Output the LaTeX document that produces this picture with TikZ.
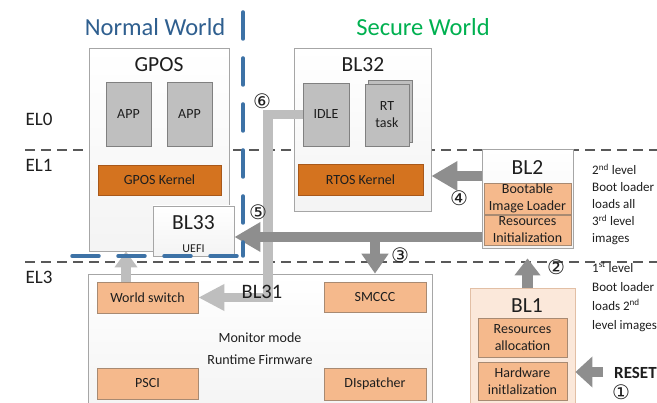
\documentclass[tikz,border=0pt]{standalone}
\usepackage{fontspec}
\setmainfont{Carlito}
\newfontfamily\circfont{DejaVu Sans}
\usetikzlibrary{arrows.meta}
\definecolor{dorange}{HTML}{D4731F}
\definecolor{dorangeline}{HTML}{A8581A}
\definecolor{lorange}{HTML}{F5B98C}
\definecolor{lorangeline}{HTML}{A88A72}
\definecolor{pale}{HTML}{FBE8DA}
\definecolor{paleline}{HTML}{E2BFA5}
\definecolor{nwblue}{HTML}{2F5F8F}
\definecolor{swgreen}{HTML}{00B050}
\definecolor{dashblue}{HTML}{3D72A6}
\definecolor{arrgray}{HTML}{8E8E8E}
\definecolor{hatchgray}{HTML}{BEBEBE}
\definecolor{boxline}{HTML}{A6A6A6}
\definecolor{appfill}{HTML}{BFBFBF}
\definecolor{appline}{HTML}{808080}
\definecolor{txt}{HTML}{1E1E1E}
\begin{document}
\begin{tikzpicture}[x=1pt,y=-1pt,
  every node/.style={text=txt, inner sep=0pt},
  outer/.style={draw=boxline, line width=0.8pt, top color=white, bottom color=gray!9},
  appbox/.style={draw=appline, line width=0.6pt, fill=appfill, font=\fontsize{14}{17}\selectfont, align=center},
  kernel/.style={draw=dorangeline, line width=0.6pt, fill=dorange, font=\fontsize{14}{17}\selectfont},
  lbox/.style={draw=lorangeline, line width=0.6pt, fill=lorange, font=\fontsize{14}{17}\selectfont, align=center},
  title/.style={font=\fontsize{21.5}{24}\selectfont},
  eltext/.style={font=\fontsize{19}{22}\selectfont},
  sidetext/.style={font=\fontsize{13}{17}\selectfont, align=left, anchor=north west},
  circnum/.style={font=\circfont\fontsize{20}{22}\selectfont},
  eldash/.style={draw=gray!70!black, line width=1.3pt, dash pattern=on 10pt off 6pt},
  bluedash/.style={draw=dashblue, line width=3.5pt, dash pattern=on 27pt off 19pt, line cap=round},
  bigarrow/.style={draw=arrgray, line width=10.5pt, -{Triangle[width=28pt,length=26pt]}},
  hatcharrow/.style={draw=hatchgray, line width=9.5pt, line join=miter, -{Triangle[width=25pt,length=26pt]}}
]
\useasboundingbox (0,0) rectangle (657,403);

% exception level lines
\coordinate (el1a) at (25,150);
\coordinate (el1b) at (657,150);
\coordinate (el3a) at (25,262);
\coordinate (el3b) at (657,262);
\draw[eldash] (el1a) -- (el1b);
\draw[eldash] (el3a) -- (el3b);

\node[eltext] (el0t) at (39,119) {EL0};
\node[eltext] (el1t) at (39,165) {EL1};
\node[eltext] (el3t) at (39,277) {EL3};

% world titles
\node[font=\fontsize{24.5}{28}\selectfont, text=nwblue] (nw) at (155,27) {Normal World};
\node[font=\fontsize{24.5}{28}\selectfont, text=swgreen] (sw) at (423,27) {Secure World};

% GPOS
\node[outer, minimum width=140, minimum height=203] (gpos) at (159,149.5) {};
\node[title] (gpost) at (159,65) {GPOS};
\node[appbox, minimum width=45, minimum height=64] (app1) at (128.5,114) {APP};
\node[appbox, minimum width=45, minimum height=64] (app2) at (189.5,114) {APP};
\node[kernel, minimum width=123, minimum height=30] (gk) at (159.5,180) {GPOS Kernel};

% BL33
\node[outer, minimum width=81, minimum height=50] (bl33) at (193.5,231) {};
\node[title] (bl33t) at (193.5,223) {BL33};
\node[font=\fontsize{12}{14}\selectfont] (uefi) at (193.5,249) {UEFI};

% BL32
\node[outer, minimum width=137, minimum height=163] (bl32) at (362.5,129.5) {};
\node[title] (bl32t) at (363,65) {BL32};
\node[appbox, minimum width=46, minimum height=63] (idle) at (326,114.5) {IDLE};
\node[appbox, minimum width=44, minimum height=62] (rtback) at (390,111.5) {};
\node[appbox, minimum width=44, minimum height=62] (rt) at (387,115) {RT\\task};
\node[kernel, minimum width=125, minimum height=31] (rk) at (360.5,179.5) {RTOS Kernel};

% BL2
\node[outer, minimum width=91, minimum height=99] (bl2) at (527.5,198.5) {};
\node[title] (bl2t) at (527.5,168) {BL2};
\node[lbox, minimum width=87, minimum height=31] (bil) at (527.5,198.5) {Bootable\\Image Loader};
\node[lbox, minimum width=87, minimum height=30] (rin) at (527.5,230) {Resources\\Initialization};

% BL1
\node[draw=paleline, line width=0.8pt, fill=pale, minimum width=105, minimum height=125] (bl1) at (522.5,350.5) {};
\node[title] (bl1t) at (527,306) {BL1};
\node[lbox, minimum width=89, minimum height=39] (ral) at (522.5,337.5) {Resources\\allocation};
\node[lbox, minimum width=89, minimum height=38] (hwi) at (522.5,381) {Hardware\\initlalization};

% BL31
\node[outer, minimum width=344, minimum height=140] (bl31) at (260,344) {};
\node[lbox, minimum width=101, minimum height=31] (ws) at (147.5,297.5) {World switch};
\node[lbox, minimum width=102, minimum height=30] (smccc) at (375,297) {SMCCC};
\node[lbox, minimum width=101, minimum height=31] (psci) at (147.5,383.5) {PSCI};
\node[lbox, minimum width=102, minimum height=32] (disp) at (375,384) {DIspatcher};
\node[font=\fontsize{14}{17}\selectfont] (mm) at (260,338) {Monitor mode};
\node[font=\fontsize{14}{17}\selectfont] (rf) at (260,360) {Runtime Firmware};

% side texts
\node[sidetext] (t2) at (592,164) {2\textsuperscript{nd} level\\Boot loader\\loads all\\3\textsuperscript{rd} level\\images};
\node[sidetext, font=\fontsize{13}{19}\selectfont] (t1) at (592,262) {1\textsuperscript{st} level\\Boot loader\\loads 2\textsuperscript{nd}\\level images};
\node[font=\bfseries\fontsize{17}{20}\selectfont, anchor=west] (reset) at (614,373) {RESET};

% hatched world-switch paths
\coordinate (c6) at (268,0);
\coordinate (c7) at (126,0);
\draw[hatcharrow] (idle.west) -- (idle.west -| c6) -- (c6 |- ws.east) -- (ws.east);
\draw[hatcharrow, -{Triangle[width=22pt,length=16pt]}] (c7 |- ws.north) -- (c7 |- gpos.south);
\node[title, font=\fontsize{20.5}{24}\selectfont] (bl31t) at (262,292) {BL31};

% boot flow arrows
\coordinate (h3) at (0,237);
\coordinate (h4) at (0,176);
\coordinate (rs) at (603,372);
\draw[bigarrow, -{Triangle[width=30pt,length=17pt]}] (rs) -- (bl1.east |- rs);
\draw[bigarrow, -{Triangle[width=25pt,length=17pt]}] (bl2.south |- bl1.north) -- ([yshift=-10pt]bl2.south);
\draw[bigarrow] (bl2.west |- h3) -- (bl33.east |- h3);
\draw[bigarrow, -{Triangle[width=26pt,length=20pt]}] (smccc.north |- h3) -- (smccc.north |- bl31.north);
\draw[bigarrow] (bl2.west |- h4) -- (bl32.east |- h4);

% world separator
\coordinate (b1) at (243,12);
\coordinate (b2) at (243,256);
\coordinate (b3) at (72,256);
\draw[bluedash] (b1) -- (b2);
\draw[bluedash] (b3) -- (b2);

% step numbers
\node[circnum] (n1) at (621,392) {①};
\node[circnum] (n2) at (556,267) {②};
\node[circnum] (n3) at (400,255) {③};
\node[circnum] (n4) at (459,198) {④};
\node[circnum] (n5) at (258,212) {⑤};
\node[circnum] (n6) at (262,101) {⑥};
\end{tikzpicture}
\end{document}
